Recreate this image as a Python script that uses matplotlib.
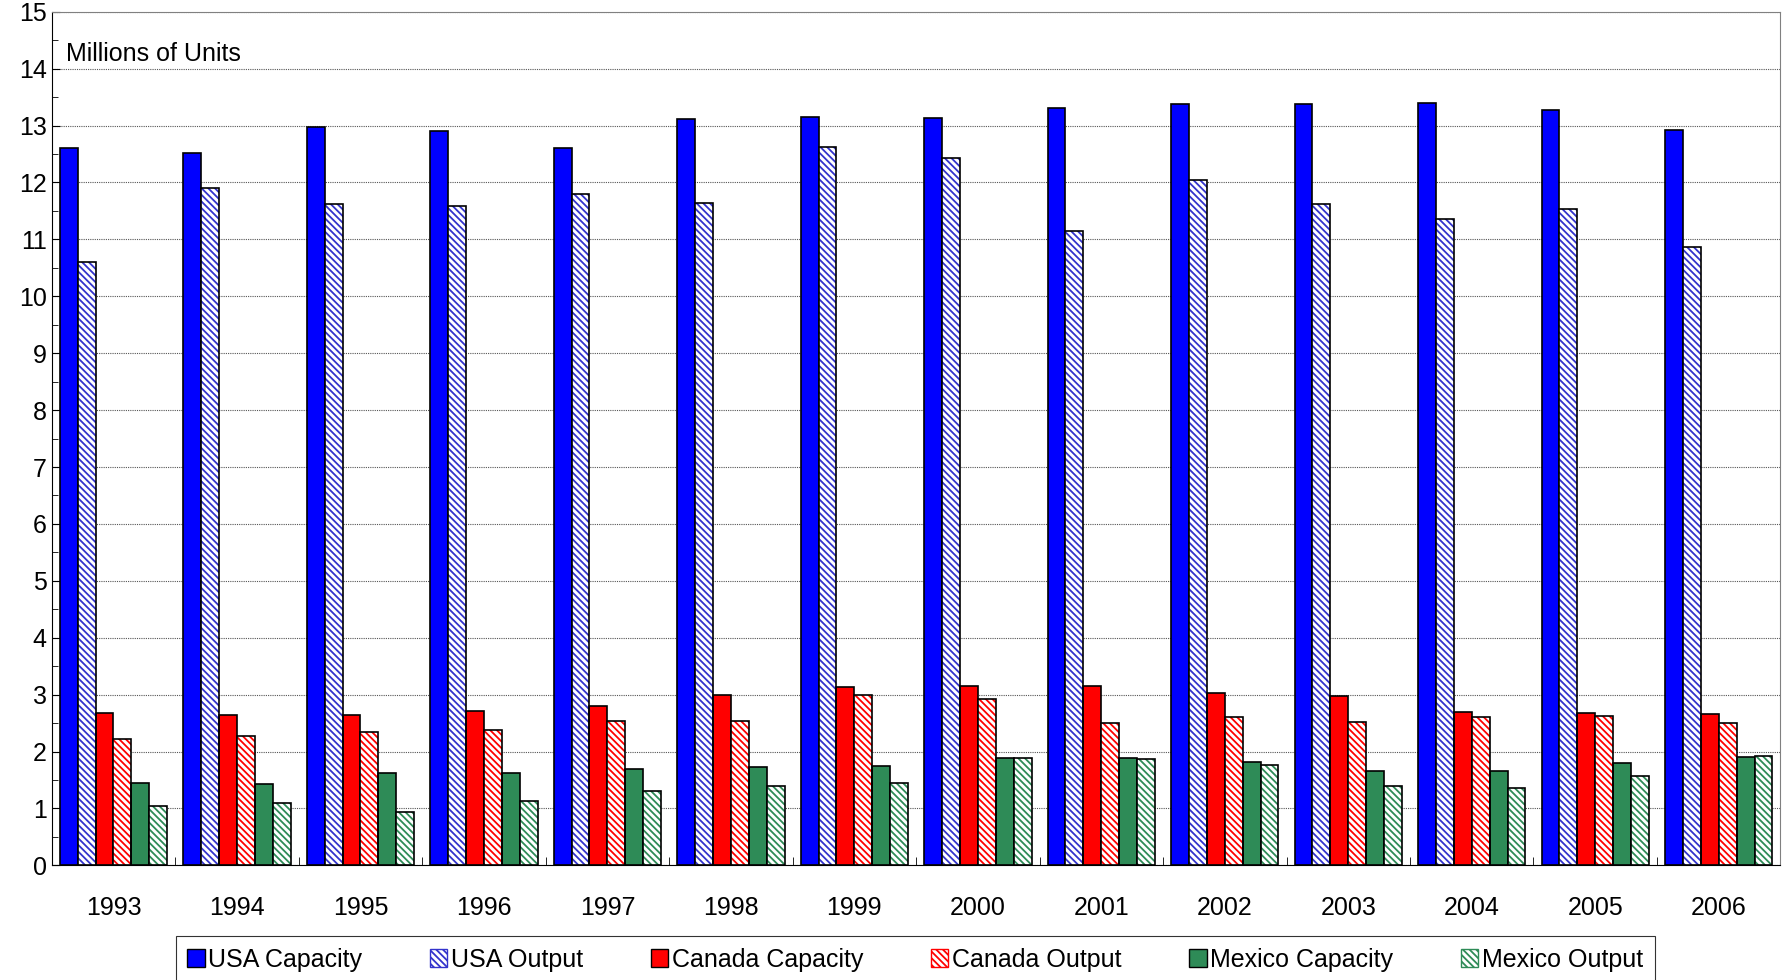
import matplotlib
matplotlib.use('Agg')
import matplotlib.pyplot as plt
from matplotlib.patches import Patch
import numpy as np

years = ['1993', '1994', '1995', '1996', '1997', '1998', '1999', '2000',
         '2001', '2002', '2003', '2004', '2005', '2006']
usa_cap = [12.6, 12.52, 12.97, 12.9, 12.6, 13.12, 13.15, 13.13, 13.3, 13.38, 13.38, 13.4, 13.28, 12.93]
usa_out = [10.6, 11.9, 11.62, 11.58, 11.8, 11.64, 12.62, 12.43, 11.15, 12.04, 11.62, 11.35, 11.53, 10.87]
can_cap = [2.68, 2.65, 2.65, 2.72, 2.8, 3.0, 3.13, 3.15, 3.15, 3.02, 2.97, 2.7, 2.68, 2.66]
can_out = [2.22, 2.27, 2.34, 2.37, 2.54, 2.53, 2.99, 2.92, 2.5, 2.6, 2.52, 2.6, 2.63, 2.51]
mex_cap = [1.44, 1.43, 1.63, 1.62, 1.69, 1.73, 1.74, 1.88, 1.88, 1.82, 1.65, 1.66, 1.8, 1.9]
mex_out = [1.04, 1.1, 0.93, 1.13, 1.31, 1.4, 1.45, 1.88, 1.86, 1.77, 1.39, 1.36, 1.57, 1.93]

series = [
    ('USA Capacity', usa_cap, '#0000FF', None, 'black'),
    ('USA Output', usa_out, 'white', '\\\\\\\\\\', '#3333CC'),
    ('Canada Capacity', can_cap, '#FF0000', None, 'black'),
    ('Canada Output', can_out, 'white', '\\\\\\\\\\', '#FF0000'),
    ('Mexico Capacity', mex_cap, '#2E8B57', None, 'black'),
    ('Mexico Output', mex_out, 'white', '\\\\\\\\\\', '#2E8B57'),
]

plt.rcParams['font.family'] = ['Liberation Sans', 'DejaVu Sans']
plt.rcParams['hatch.linewidth'] = 1.3

fig = plt.figure(figsize=(17.84, 9.8), dpi=100)
ax = fig.add_axes([0.029, 0.117, 0.969, 0.871])

x = np.arange(len(years))
w = 0.145
handles = []
for i, (name, vals, fc, hatch, ec) in enumerate(series):
    pos = x + (i - 2.5) * w
    if hatch:
        ax.bar(pos, vals, w, color=fc, hatch=hatch, edgecolor=ec, linewidth=0, zorder=2)
        ax.bar(pos, vals, w, color='none', edgecolor='black', linewidth=1.2, zorder=3)
    else:
        ax.bar(pos, vals, w, color=fc, edgecolor='black', linewidth=1.2, zorder=2)
    handles.append(Patch(facecolor=fc, hatch=hatch, edgecolor=ec, label=name))

ax.set_xlim(-0.5, len(years) - 0.5)
ax.set_ylim(0, 15)
ax.set_yticks(range(16))
ax.set_yticks(np.arange(0, 15, 0.5), minor=True)
ax.yaxis.grid(True, linestyle=(0, (1, 1)), color='#555555', linewidth=0.8, zorder=0)
ax.set_xticks(x)
ax.set_xticklabels(years)
ax.set_xticks(np.arange(-0.5, len(years)), minor=True)
ax.tick_params(axis='x', which='major', length=0, pad=22, labelsize=18)
ax.tick_params(axis='x', which='minor', length=6, direction='in')
ax.tick_params(axis='y', labelsize=18, direction='in', length=6)
ax.tick_params(axis='y', which='minor', direction='in', length=4)
for s in ax.spines.values():
    s.set_color('#808080')
ax.spines['bottom'].set_color('black')
ax.spines['left'].set_color('black')
ax.text(0.008, 0.965, 'Millions of Units', transform=ax.transAxes, fontsize=18, va='top')

leg = fig.legend(handles=handles, loc='lower center', bbox_to_anchor=(0.513, -0.003), ncol=6,
                 fontsize=18, frameon=True, fancybox=False, edgecolor='black', handlelength=0.7,
                 handleheight=0.7, handletextpad=0.15, columnspacing=2.7, borderpad=0.45,
                 borderaxespad=0)
leg.get_frame().set_linewidth(0.8)

fig.savefig('out.png', dpi=100)
